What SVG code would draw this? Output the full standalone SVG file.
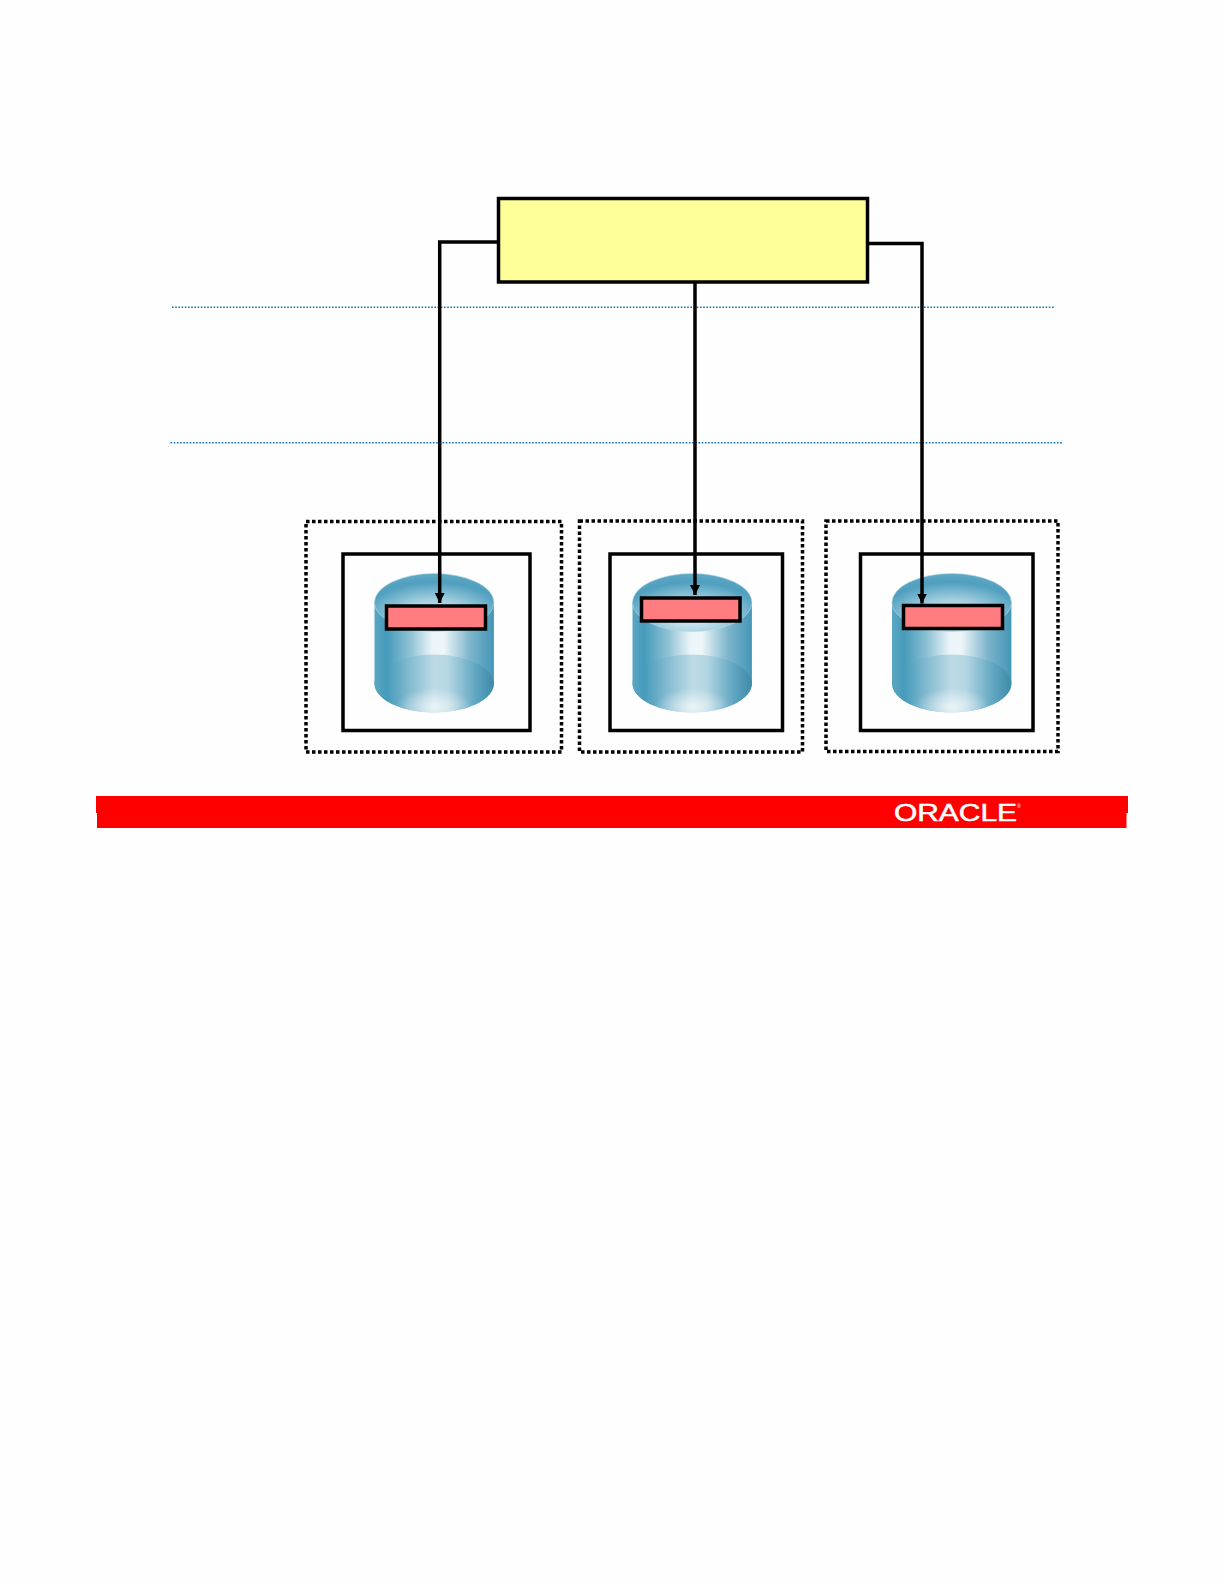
<svg xmlns="http://www.w3.org/2000/svg" width="1224" height="1584" viewBox="0 0 1224 1584">
<style>
.solid{fill:none;stroke:#000;stroke-width:3.5}
.dot{fill:none;stroke:#000;stroke-width:3.5;stroke-dasharray:3.5 2.5}
.pink{fill:#ff7c80;stroke:#000;stroke-width:3.5}
.guide{fill:none;stroke:#0b72c4;stroke-width:1.6;stroke-dasharray:1.6 1.6}
.conn{fill:none;stroke:#000;stroke-width:3.5;stroke-linejoin:miter}
.logo{font-family:"Liberation Sans",Arial,sans-serif;fill:#fff}
</style>
<defs>
<marker id="arrow" markerUnits="userSpaceOnUse" markerWidth="11" markerHeight="10" refX="10" refY="5" orient="auto"><path d="M0 0L10 5L0 10Z" fill="#000"/></marker>
<linearGradient id="body" x1="0" x2="1" y1="0" y2="0">
<stop offset="0" stop-color="#5aa6c3"/><stop offset=".1" stop-color="#459bbb"/><stop offset=".3" stop-color="#8fc2d5"/><stop offset=".48" stop-color="#eaf4f8"/><stop offset=".58" stop-color="#eef6f9"/><stop offset=".8" stop-color="#7db5cc"/><stop offset="1" stop-color="#4496b7"/>
</linearGradient>
<linearGradient id="low" x1="0" x2="1" y1="0" y2="0">
<stop offset="0" stop-color="#5aa6c3"/><stop offset=".1" stop-color="#459bbb"/><stop offset=".3" stop-color="#86bcd1"/><stop offset=".5" stop-color="#bddbe6"/><stop offset=".62" stop-color="#b4d6e3"/><stop offset=".85" stop-color="#5fa6c2"/><stop offset="1" stop-color="#3f8aa8"/>
</linearGradient>
<radialGradient id="glow" cx=".5" cy=".9" r=".32">
<stop offset="0" stop-color="#fff" stop-opacity=".7"/><stop offset="1" stop-color="#fff" stop-opacity="0"/>
</radialGradient>
<radialGradient id="top" cx=".5" cy=".75" r=".75">
<stop offset="0" stop-color="#e3f0f5"/><stop offset=".4" stop-color="#a3cfdf"/><stop offset=".8" stop-color="#4f9fbf"/><stop offset="1" stop-color="#5ea8c4"/>
</radialGradient>
<g id="cyl">
<path d="M0 29V110A59.7 29 0 0 0 119.4 110V29Z" fill="url(#body)"/>
<path d="M0 110A59.7 29 0 0 1 119.4 110A59.7 29 0 0 1 0 110Z" fill="url(#low)"/>
<path d="M0 110A59.7 29 0 0 1 119.4 110A59.7 29 0 0 1 0 110Z" fill="url(#glow)"/>
<ellipse cx="59.7" cy="29" rx="59.7" ry="29" fill="url(#top)" stroke="#b5d7e3" stroke-width=".6"/>
</g>
</defs>
<rect id="page" width="1224" height="1584" fill="#fefefe"/>
<g id="guides">
<line class="guide" x1="172" y1="307.3" x2="1055" y2="307.3"/>
<line class="guide" x1="170.5" y1="442.7" x2="1062" y2="442.7"/>
</g>
<g id="db1">
<rect class="dot" x="306" y="521.5" width="255.5" height="230.5"/>
<rect class="solid" x="343" y="554" width="187" height="176.5"/>
<use href="#cyl" x="374.5" y="573.5"/>
<rect class="pink" x="386.5" y="606" width="99" height="23"/>
</g>
<g id="db2">
<rect class="dot" x="579.5" y="521" width="223" height="231"/>
<rect class="solid" x="610" y="554" width="172.5" height="176.5"/>
<use href="#cyl" x="632.5" y="573.5"/>
<rect class="pink" x="641.5" y="598" width="98.5" height="23"/>
</g>
<g id="db3">
<rect class="dot" x="826" y="521" width="232" height="230.5"/>
<rect class="solid" x="860.5" y="554" width="172.5" height="176.5"/>
<use href="#cyl" x="892" y="573.5"/>
<rect class="pink" x="903.5" y="605.5" width="99" height="23"/>
</g>
<g id="connectors">
<path class="conn" d="M498.5 242H439.7V603" marker-end="url(#arrow)"/>
<path class="conn" d="M695 282V595" marker-end="url(#arrow)"/>
<path class="conn" d="M867.5 243.5H922V603.5" marker-end="url(#arrow)"/>
</g>
<g id="source">
<rect x="498.5" y="198.5" width="369" height="83.5" fill="#ffff99" stroke="#000" stroke-width="3.5"/>
</g>
<g id="footer">
<path d="M96 796H1128V813H1126.5V828H97V813H96Z" fill="#f00"/>
<text class="logo" x="894" y="821" font-size="23" textLength="123" lengthAdjust="spacingAndGlyphs" stroke="#fff" stroke-width=".5">ORACLE</text>
<text class="logo" x="1017" y="808" font-size="5">®</text>
</g>
</svg>
